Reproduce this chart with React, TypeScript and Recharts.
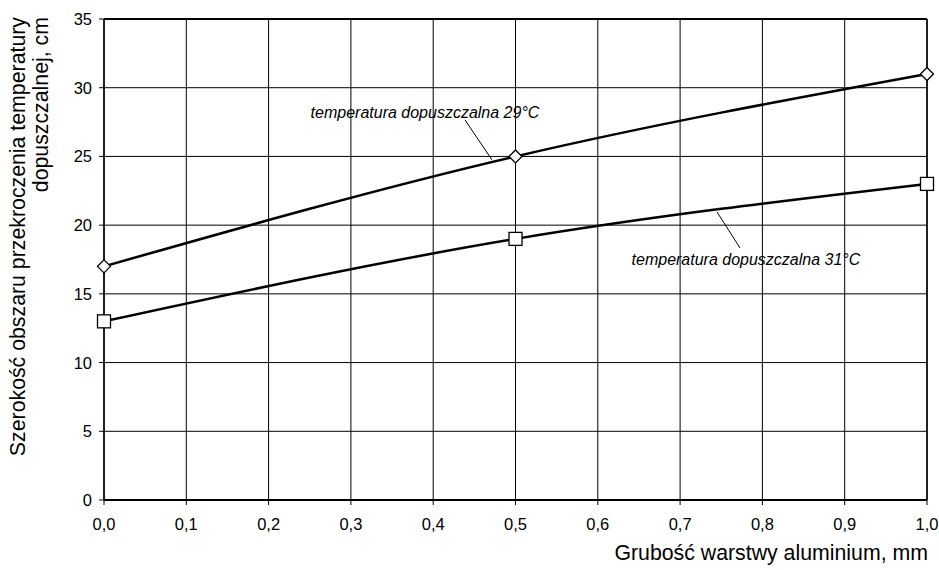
import React from "react";
import {
  LineChart, Line, XAxis, YAxis, CartesianGrid, ReferenceLine, ReferenceDot, Label,
} from "recharts";

const thickness = [0, 0.5, 1];
const width29 = [17, 25, 31];
const width31 = [13, 19, 23];
const xTicks = [0, 0.1, 0.2, 0.3, 0.4, 0.5, 0.6, 0.7, 0.8, 0.9, 1];
const yTicks = [0, 5, 10, 15, 20, 25, 30, 35];

const label29 = "temperatura dopuszczalna 29°C";
const label31 = "temperatura dopuszczalna 31°C";
const leader29 = [{ x: 0.4386, y: 27.66 }, { x: 0.4714, y: 24.75 }];
const leader31 = [{ x: 0.7448, y: 20.96 }, { x: 0.7728, y: 18.34 }];
const label29Pos = { x: 0.39, y: 28.17 };
const label31Pos = { x: 0.78, y: 17.47 };

const data = thickness.map((t, i) => ({ t, a: width29[i], b: width31[i] }));

const FONT = "'Liberation Sans', Arial, sans-serif";

const Diamond = (props: any) => {
  const { cx, cy } = props;
  if (cx == null || cy == null) return null;
  const r = 6.5;
  return (
    <path
      d={`M${cx},${cy - r}L${cx + r},${cy}L${cx},${cy + r}L${cx - r},${cy}Z`}
      fill="#fff" stroke="#000" strokeWidth={1.3}
    />
  );
};

const Square = (props: any) => {
  const { cx, cy } = props;
  if (cx == null || cy == null) return null;
  const h = 6.5;
  return <rect x={cx - h} y={cy - h} width={2 * h} height={2 * h} fill="#fff" stroke="#000" strokeWidth={1.3} />;
};

const XTick = (props: any) => {
  const { x, y, payload } = props;
  return (
    <text x={x} y={y + 23} textAnchor="middle" fontFamily={FONT} fontSize={16.5} fill="#000">
      {payload.value.toFixed(1).replace(".", ",")}
    </text>
  );
};

const YTick = (props: any) => {
  const { x, y, payload } = props;
  return (
    <text x={x} y={y} textAnchor="end" dominantBaseline="central" fontFamily={FONT} fontSize={16.5} fill="#000">
      {payload.value}
    </text>
  );
};

const annotation = (text: string) => (props: any) => (
  <text
    x={props.cx} y={props.cy} textAnchor="middle" dominantBaseline="central"
    fontFamily={FONT} fontStyle="italic" fontSize={16} fill="#000"
  >
    {text}
  </text>
);

export default function App() {
  return (
    <div style={{ position: "absolute", left: 0, top: 0, background: "#fff" }}>
      <LineChart width={939} height={570} data={data} margin={{ top: 19, right: 12, bottom: 0, left: 0 }}>
        <CartesianGrid stroke="#000" strokeWidth={1} horizontalValues={yTicks} verticalValues={xTicks} />
        <XAxis
          dataKey="t" type="number" domain={[0, 1]} ticks={xTicks} height={70}
          tick={<XTick />}
          axisLine={{ stroke: "#000", strokeWidth: 2 }}
          tickLine={{ stroke: "#000" }} tickSize={5} tickMargin={2}
        >
          <Label
            content={(p: any) => (
              <text
                x={p.viewBox.x + p.viewBox.width + 1} y={553} textAnchor="end" dominantBaseline="central"
                fontFamily={FONT} fontSize={21.3} fill="#000"
              >
                Grubość warstwy aluminium, mm
              </text>
            )}
          />
        </XAxis>
        <YAxis
          type="number" domain={[0, 35]} ticks={yTicks} width={104}
          tick={<YTick />}
          axisLine={{ stroke: "#000", strokeWidth: 1.5 }}
          tickLine={{ stroke: "#000" }} tickSize={5} tickMargin={7}
        >
          <Label
            content={() => (
              <g fontFamily={FONT} fontSize={21.3} fill="#000">
                <text transform="translate(18,17) rotate(-90)" textAnchor="end" dominantBaseline="central">
                  Szerokość obszaru przekroczenia temperatury
                </text>
                <text transform="translate(41,17) rotate(-90)" textAnchor="end" dominantBaseline="central">
                  dopuszczalnej, cm
                </text>
              </g>
            )}
          />
        </YAxis>
        <ReferenceLine y={35} stroke="#000" strokeWidth={2} />
        <ReferenceLine x={1} stroke="#000" strokeWidth={1.5} />
        <ReferenceLine segment={leader29} stroke="#000" strokeWidth={1} />
        <ReferenceLine segment={leader31} stroke="#000" strokeWidth={1} />
        <ReferenceDot x={label29Pos.x} y={label29Pos.y} r={0} shape={annotation(label29)} />
        <ReferenceDot x={label31Pos.x} y={label31Pos.y} r={0} shape={annotation(label31)} />
        <Line
          type="monotone" dataKey="a" stroke="#000" strokeWidth={2.5}
          dot={<Diamond />} activeDot={false} isAnimationActive={false}
        />
        <Line
          type="monotone" dataKey="b" stroke="#000" strokeWidth={2.5}
          dot={<Square />} activeDot={false} isAnimationActive={false}
        />
      </LineChart>
    </div>
  );
}
